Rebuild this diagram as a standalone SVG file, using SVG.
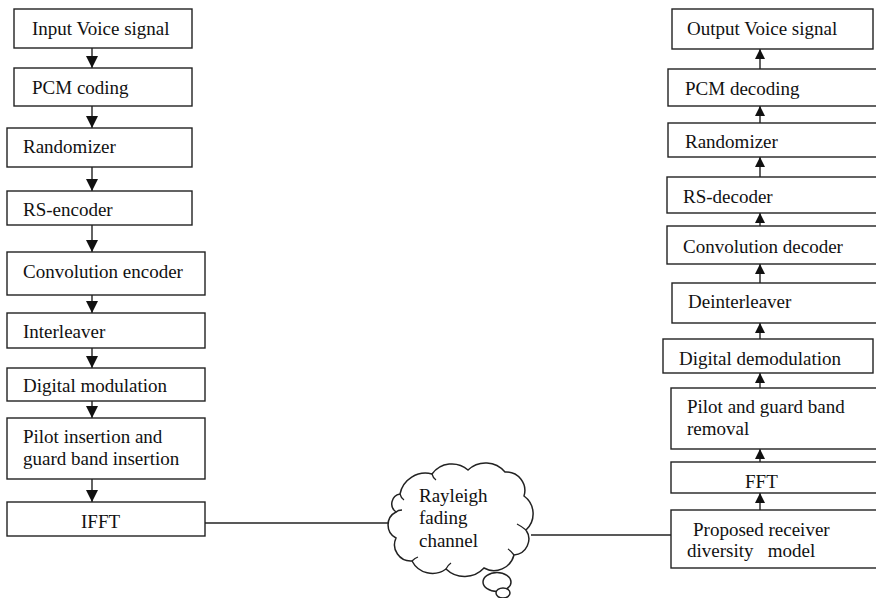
<svg xmlns="http://www.w3.org/2000/svg" width="876" height="598" viewBox="0 0 876 598">
<style>
  .box { fill: #fff; stroke: #222; stroke-width: 1.4; }
  .t { font-family: "Liberation Serif", "Times New Roman", serif; font-size: 19px; fill: #111; }
  .ln { stroke: #222; stroke-width: 1.4; fill: none; }
  .cl { fill: #fff; stroke: #222; stroke-width: 1.5; }
  .hk { fill: none; stroke: #222; stroke-width: 1.3; }
</style>
<defs>
  <marker id="ahL" markerUnits="userSpaceOnUse" markerWidth="12" markerHeight="12" refX="12" refY="6" orient="auto">
    <path d="M0,0 L12,6 L0,12 z" fill="#111"/>
  </marker>
  <marker id="ahR" markerUnits="userSpaceOnUse" markerWidth="10" markerHeight="10" refX="10" refY="5" orient="auto">
    <path d="M0,0 L10,5 L0,10 z" fill="#111"/>
  </marker>
</defs>
<rect width="876" height="598" fill="#fff"/>

<g id="connectors">
  <line class="ln" x1="92" y1="48" x2="92" y2="68" marker-end="url(#ahL)"/>
  <line class="ln" x1="92" y1="106" x2="92" y2="128" marker-end="url(#ahL)"/>
  <line class="ln" x1="92" y1="167" x2="92" y2="191" marker-end="url(#ahL)"/>
  <line class="ln" x1="92" y1="225" x2="92" y2="252" marker-end="url(#ahL)"/>
  <line class="ln" x1="92" y1="295" x2="92" y2="313" marker-end="url(#ahL)"/>
  <line class="ln" x1="92" y1="348" x2="92" y2="368" marker-end="url(#ahL)"/>
  <line class="ln" x1="92" y1="401" x2="92" y2="418" marker-end="url(#ahL)"/>
  <line class="ln" x1="92" y1="479" x2="92" y2="502" marker-end="url(#ahL)"/>

  <line class="ln" x1="760" y1="69" x2="760" y2="49" marker-end="url(#ahR)"/>
  <line class="ln" x1="760" y1="123" x2="760" y2="106" marker-end="url(#ahR)"/>
  <line class="ln" x1="760" y1="177" x2="760" y2="157" marker-end="url(#ahR)"/>
  <line class="ln" x1="760" y1="226" x2="760" y2="213" marker-end="url(#ahR)"/>
  <line class="ln" x1="760" y1="283" x2="760" y2="264" marker-end="url(#ahR)"/>
  <line class="ln" x1="760" y1="339" x2="760" y2="323" marker-end="url(#ahR)"/>
  <line class="ln" x1="760" y1="388" x2="760" y2="373" marker-end="url(#ahR)"/>
  <line class="ln" x1="760" y1="462" x2="760" y2="449" marker-end="url(#ahR)"/>
  <line class="ln" x1="760" y1="510" x2="760" y2="493" marker-end="url(#ahR)"/>

  <line class="ln" x1="205" y1="523" x2="398" y2="523"/>
  <line class="ln" x1="531" y1="535" x2="671" y2="535"/>
</g>

<g id="n-input"><rect class="box" x="14" y="9" width="178" height="39"/><text class="t" x="32" y="35">Input Voice signal</text></g>
<g id="n-pcm"><rect class="box" x="14" y="68" width="178" height="38"/><text class="t" x="32" y="94">PCM coding</text></g>
<g id="n-rand"><rect class="box" x="7" y="128" width="185" height="39"/><text class="t" x="23" y="153">Randomizer</text></g>
<g id="n-rsenc"><rect class="box" x="7" y="191" width="185" height="34"/><text class="t" x="23" y="216">RS-encoder</text></g>
<g id="n-conv"><rect class="box" x="7" y="252" width="198" height="43"/><text class="t" x="23" y="278">Convolution encoder</text></g>
<g id="n-inter"><rect class="box" x="7" y="313" width="198" height="35"/><text class="t" x="23" y="338">Interleaver</text></g>
<g id="n-mod"><rect class="box" x="7" y="368" width="198" height="33"/><text class="t" x="23" y="392">Digital modulation</text></g>
<g id="n-pilot"><rect class="box" x="7" y="418" width="198" height="61"/><text class="t" x="23" y="443">Pilot insertion and</text><text class="t" x="23" y="465">guard band insertion</text></g>
<g id="n-ifft"><rect class="box" x="7" y="502" width="198" height="34"/><text class="t" x="81" y="528">IFFT</text></g>

<g id="n-channel">
  <path class="cl" d="M400,494 A26,26 0 0,1 432,474 A24.5,24.5 0 0,1 468,470 A25.4,25.4 0 0,1 505,472 A18.6,18.6 0 0,1 524,496 A22,22 0 0,1 526,530 A16,16 0 0,1 514,555 A20.7,20.7 0 0,1 484,568 A26.6,26.6 0 0,1 446,569 A23,23 0 0,1 412,561 A16.3,16.3 0 0,1 396,538 A14.6,14.6 0 0,1 396,512 A10,10 0 0,1 400,494 Z"/>
  <path class="hk" d="M400,494 Q401,498 404,500"/>
  <path class="hk" d="M432,474 Q433,478 436,480"/>
  <path class="hk" d="M396,512 Q398,510 402,510"/>
  <path class="hk" d="M526,530 Q521,526 517,524"/>
  <path class="hk" d="M514,555 Q511,551 508,549"/>
  <path class="hk" d="M446,569 Q448,565 451,563"/>
  <path class="hk" d="M412,561 Q415,558 418,557"/>
  <ellipse class="cl" cx="497" cy="582" rx="14" ry="9.5"/>
  <ellipse class="cl" cx="503" cy="593" rx="7" ry="5"/>
  <text class="t" x="419" y="502">Rayleigh</text>
  <text class="t" x="419" y="524">fading</text>
  <text class="t" x="419" y="547">channel</text>
</g>

<g id="n-output"><rect class="box" x="672" y="9" width="201" height="40"/><text class="t" x="687" y="35">Output Voice signal</text></g>
<g id="n-pcmdec"><rect class="box" x="668" y="69" width="212" height="37"/><text class="t" x="685" y="95">PCM decoding</text></g>
<g id="n-rand2"><rect class="box" x="668" y="123" width="212" height="34"/><text class="t" x="685" y="148">Randomizer</text></g>
<g id="n-rsdec"><rect class="box" x="667" y="177" width="213" height="36"/><text class="t" x="683" y="203">RS-decoder</text></g>
<g id="n-convdec"><rect class="box" x="667" y="226" width="213" height="38"/><text class="t" x="683" y="253">Convolution decoder</text></g>
<g id="n-deint"><rect class="box" x="672" y="283" width="208" height="40"/><text class="t" x="688" y="308">Deinterleaver</text></g>
<g id="n-demod"><rect class="box" x="663" y="339" width="210" height="34"/><text class="t" x="679" y="365">Digital demodulation</text></g>
<g id="n-pilotrem"><rect class="box" x="671" y="388" width="209" height="61"/><text class="t" x="687" y="413">Pilot and guard band</text><text class="t" x="687" y="435">removal</text></g>
<g id="n-fft"><rect class="box" x="671" y="462" width="209" height="31"/><text class="t" x="745" y="488">FFT</text></g>
<g id="n-proposed"><rect class="box" x="671" y="510" width="209" height="58"/><text class="t" x="693" y="536">Proposed receiver</text><text class="t" x="687" y="557" xml:space="preserve">diversity   model</text></g>
</svg>
